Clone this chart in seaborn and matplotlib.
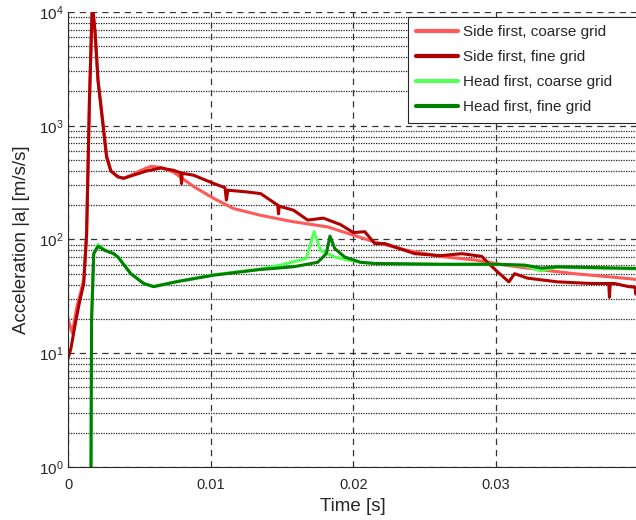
import numpy as np
import pandas as pd
import seaborn as sns
from matplotlib import pyplot as plt
from matplotlib.ticker import LogLocator, FixedLocator, NullFormatter

sns.set_theme(style="white")
plt.rcParams['font.family'] = ['Liberation Sans', 'DejaVu Sans']
plt.rcParams['mathtext.default'] = 'regular'

# values (time in s, |a| in m/s/s)
side_coarse_t = [0, 0.0003, 0.0006, 0.0009, 0.0011, 0.0013, 0.0015, 0.0017, 0.0019, 0.0021,
                 0.0024, 0.0027, 0.003, 0.0035, 0.0039, 0.0045, 0.005, 0.0058, 0.0065, 0.0074,
                 0.0088, 0.0102, 0.0116, 0.0135, 0.0158, 0.0182, 0.02, 0.0215, 0.0238, 0.0261,
                 0.0285, 0.0308, 0.0332, 0.0355, 0.0379, 0.0399]
side_coarse_a = [20, 15, 25, 35, 45, 110, 1700, 12000, 6500, 2500,
                 1200, 550, 400, 355, 345, 370, 400, 440, 430, 390,
                 292, 230, 187, 163, 143, 129, 109, 95, 80, 71,
                 66, 59, 54, 50, 47, 44.5]

side_fine_t = [0, 0.0002, 0.0005, 0.0008, 0.0011, 0.0013, 0.0015, 0.0017, 0.0019, 0.0021,
               0.0024, 0.0027, 0.003, 0.0035, 0.0039, 0.0045, 0.0055, 0.0065, 0.0074, 0.0079,
               0.00795, 0.0080, 0.0088, 0.0102, 0.0110, 0.0111, 0.0112, 0.0125, 0.0135, 0.0147,
               0.01475, 0.0148, 0.0158, 0.0168, 0.0179, 0.0191,
               0.02, 0.0208, 0.0215, 0.0222, 0.0243, 0.0261, 0.0276, 0.029, 0.0294, 0.0301,
               0.0309, 0.0313, 0.0322, 0.0343, 0.0367, 0.0379, 0.03795, 0.0380, 0.0383, 0.0393,
               0.03975, 0.0398, 0.0399]
side_fine_a = [9, 11, 18, 28, 41, 112, 1670, 12000, 6500, 2500,
               1150, 530, 400, 355, 345, 365, 400, 425, 405, 385,
               310, 382, 367, 311, 285, 222, 271, 262, 253, 200,
               168, 196, 181, 148, 154, 135,
               115, 117, 92, 92, 75, 72, 75, 71, 63, 52,
               42.4, 50, 45.7, 42.4, 41, 41, 31, 41, 41, 38.5,
               38, 33, 37.5]

head_coarse_t = [0.0016, 0.00165, 0.0018, 0.0021, 0.0026, 0.0032, 0.0035, 0.0044, 0.0053, 0.006,
                 0.0076, 0.0102, 0.0135, 0.015, 0.0167, 0.01724, 0.0177, 0.0187, 0.0196, 0.0205,
                 0.0215, 0.0261, 0.030, 0.032, 0.0331, 0.0343, 0.0399]
head_coarse_a = [0.5, 20, 75, 90, 80, 75, 70, 50, 41, 38.5,
                 42.5, 49, 55, 60, 68, 117, 80, 70, 66, 63,
                 61.5, 60.5, 60.5, 59, 53, 57, 55]

head_fine_t = [0.0016, 0.00165, 0.0018, 0.0021, 0.0026, 0.0032, 0.0035, 0.0044, 0.0053, 0.006,
               0.0076, 0.0102, 0.0135, 0.0158, 0.0175, 0.0181, 0.01836, 0.0187, 0.0194, 0.0205,
               0.0215, 0.0261, 0.030, 0.032, 0.0332, 0.0343, 0.0399]
head_fine_a = [0.5, 20, 75, 87, 80, 75, 70, 50, 41, 38.5,
               42.5, 48.5, 54.5, 57.5, 63, 75, 107, 83, 70, 63,
               61.5, 60.5, 60.5, 59.5, 56, 57.5, 55.6]

names = ['Side first, coarse grid', 'Side first, fine grid',
         'Head first, coarse grid', 'Head first, fine grid']
colors = ['#ff5a5a', '#b00000', '#55ff55', '#008000']

frames = []
for n, t, a in zip(names, [side_coarse_t, side_fine_t, head_coarse_t, head_fine_t],
                   [side_coarse_a, side_fine_a, head_coarse_a, head_fine_a]):
    frames.append(pd.DataFrame({'t': t, 'a': a, 'series': n}))
df = pd.concat(frames, ignore_index=True)

fig = plt.figure(figsize=(6.36, 5.2), dpi=100)
ax = fig.add_axes([0.107, 0.102, 0.895, 0.875])

sns.lineplot(data=df, x='t', y='a', hue='series', hue_order=names,
             palette=dict(zip(names, colors)), estimator=None, sort=False,
             lw=2.2, ax=ax)

ax.set_yscale('log')
ax.set_xlim(0, 0.0399)
ax.set_ylim(1, 1e4)

ax.xaxis.set_major_locator(FixedLocator([0, 0.01, 0.02, 0.03]))
ax.set_xticklabels(['0', '0.01', '0.02', '0.03'])
ax.yaxis.set_major_locator(FixedLocator([1, 10, 100, 1000, 10000]))
ax.set_yticklabels(['$10^{%d}$' % k for k in range(5)])
ax.yaxis.set_minor_locator(LogLocator(base=10, subs=np.arange(2, 10), numticks=20))
ax.yaxis.set_minor_formatter(NullFormatter())

ax.grid(True, which='major', axis='both', ls=(0, (5, 4)), color='#333333', lw=0.9)
ax.grid(True, which='minor', axis='y', ls=(0, (1, 1)), color='#222222', lw=0.9)
ax.tick_params(which='both', direction='in', labelsize=10.5, colors='#262626', length=3)
ax.tick_params(axis='y', labelsize=11)
ax.tick_params(axis='x', pad=8)

for s in ['top', 'right']:
    ax.spines[s].set_visible(False)
for s in ['left', 'bottom']:
    ax.spines[s].set_color('#262626')
    ax.spines[s].set_linewidth(0.8)

ax.set_xlabel('Time [s]', fontsize=13.5, color='#262626', labelpad=4)
ax.set_ylabel('Acceleration |a| [m/s/s]', fontsize=13.5, color='#262626', labelpad=6)

# legend box spans from x~408 px to the right edge of the figure
leg = ax.legend(loc='upper left', bbox_to_anchor=(0.597, 0.769, 0.41, 0.22),
                mode='expand', fontsize=11,
                frameon=True, fancybox=False, edgecolor='#262626', framealpha=1,
                handlelength=2.7, handletextpad=0.35, borderpad=0.55,
                borderaxespad=0, labelspacing=0.72)
leg.get_frame().set_linewidth(0.8)
for line in leg.get_lines():
    line.set_linewidth(3)

fig.savefig('out.png', dpi=100)
